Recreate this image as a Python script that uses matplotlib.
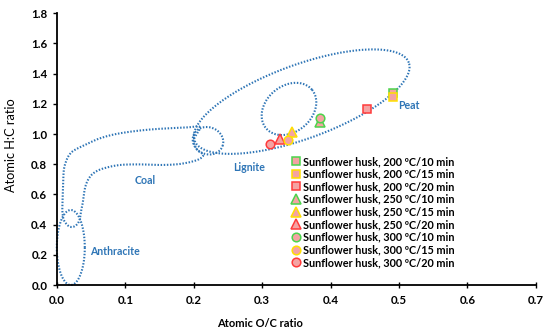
import numpy as np
import matplotlib
matplotlib.use("Agg")
import matplotlib.pyplot as plt
from matplotlib.lines import Line2D

plt.rcParams['font.family'] = ['Lato', 'DejaVu Sans']

# sunflower husk samples (O/C, H/C)
labels = [
    "Sunflower husk, 200 \u00baC/10 min",
    "Sunflower husk, 200 \u00baC/15 min",
    "Sunflower husk, 200 \u00baC/20 min",
    "Sunflower husk, 250 \u00baC/10 min",
    "Sunflower husk, 250 \u00baC/15 min",
    "Sunflower husk, 250 \u00baC/20 min",
    "Sunflower husk, 300 \u00baC/10 min",
    "Sunflower husk, 300 \u00baC/15 min",
    "Sunflower husk, 300 \u00baC/20 min",
]
oc = [0.492, 0.492, 0.453, 0.384, 0.343, 0.326, 0.384, 0.338, 0.311]
hc = [1.270, 1.248, 1.166, 1.078, 1.016, 0.968, 1.109, 0.961, 0.936]
markers = ['s', 's', 's', '^', '^', '^', 'o', 'o', 'o']
edges = ['#4CD44C', '#FFE000', '#FF3B3B'] * 3

# region outlines: ellipses (centre in data units, semi-axes in px, angle deg)
ell_centers = [(0.0202, 0.2485), (0.2208, 0.9556), (0.3392, 1.1663), (0.3578, 1.2147)]
ell_axes = [(14, 37.5), (15.5, 13.5), (30, 23), (114, 37)]
ell_angles = [0, -20, 40, 20]

# coal band outline (data units)
coal_x = [0.209, 0.190, 0.136, 0.092, 0.063, 0.041, 0.026, 0.019, 0.014, 0.010,
          0.009, 0.008, 0.008, 0.010, 0.016, 0.022, 0.0285, 0.033, 0.035, 0.0376,
          0.041, 0.047, 0.056, 0.070, 0.092, 0.121, 0.151, 0.180, 0.205, 0.214,
          0.205, 0.200]
coal_y = [1.045, 1.044, 1.030, 1.005, 0.972, 0.928, 0.895, 0.868, 0.828, 0.762,
          0.651, 0.541, 0.484, 0.431, 0.394, 0.384, 0.398, 0.431, 0.484, 0.541,
          0.643, 0.709, 0.749, 0.775, 0.795, 0.799, 0.795, 0.802, 0.828, 0.862,
          0.895, 0.961]

region_names = ['Anthracite', 'Coal', 'Lignite', 'Peat']
region_pos = [(0.049, 0.225), (0.114, 0.692), (0.258, 0.779), (0.499, 1.186)]

BLUE = '#2E75B6'
PINK = '#F4A3A3'

fig = plt.figure(figsize=(5.5, 3.34), dpi=100)
ax = fig.add_axes([0.1036, 0.1467, 0.8705, 0.8135])
ax.set_xlim(0, 0.7)
ax.set_ylim(0, 1.8)

pos = ax.get_position()
ppx = pos.width * 550 / 0.7
ppy = pos.height * 334 / 1.8


def ellipse(c, ab, ang):
    t = np.linspace(0, 2 * np.pi, 400)
    u, v = ab[0] * np.cos(t), ab[1] * np.sin(t)
    r = np.deg2rad(ang)
    du = u * np.cos(r) - v * np.sin(r)
    dv = u * np.sin(r) + v * np.cos(r)
    return c[0] + du / ppx, c[1] + dv / ppy


def smooth_closed(xs, ys, n=20):
    p = np.column_stack([np.array(xs) * ppx, np.array(ys) * ppy])
    out = []
    m = len(p)
    for i in range(m):
        p0, p1, p2, p3 = p[i - 1], p[i], p[(i + 1) % m], p[(i + 2) % m]
        for t in np.linspace(0, 1, n, endpoint=False):
            t2, t3 = t * t, t * t * t
            out.append(0.5 * (2 * p1 + (-p0 + p2) * t + (2 * p0 - 5 * p1 + 4 * p2 - p3) * t2
                              + (-p0 + 3 * p1 - 3 * p2 + p3) * t3))
    out.append(out[0])
    out = np.array(out)
    return out[:, 0] / ppx, out[:, 1] / ppy


line_kw = dict(color=BLUE, lw=1.5, linestyle=(0, (0.7, 0.8)), dash_capstyle='butt', zorder=1)
for c, ab, ang in zip(ell_centers, ell_axes, ell_angles):
    ex, ey = ellipse(c, ab, ang)
    ax.plot(ex, ey, clip_on=False, **line_kw)
cx, cy = smooth_closed(coal_x, coal_y)
ax.plot(cx, cy, **line_kw)

for name, (tx, ty) in zip(region_names, region_pos):
    ax.text(tx, ty, name, color=BLUE, fontsize=7.6, fontweight='bold', va='center', ha='left')

handles = []
for i in range(len(labels)):
    ms = 6.2 if markers[i] != '^' else 6.8
    ax.plot(oc[i], hc[i], linestyle='none', marker=markers[i], ms=ms,
            mfc=PINK, mec=edges[i], mew=1.1, zorder=3 + i)
    handles.append(Line2D([], [], linestyle='none', marker=markers[i],
                          ms=ms, mfc=PINK, mec=edges[i], mew=1.1))

ax.legend(handles, labels, loc='upper left', bbox_to_anchor=(0.491, 0.475), frameon=False,
          handlelength=0.8, handletextpad=0.22, labelspacing=0.15,
          borderpad=0, borderaxespad=0, prop={'weight': 'bold', 'size': 7.8})

ax.set_xticks(np.arange(0, 0.71, 0.1))
ax.set_yticks(np.arange(0, 1.81, 0.2))
ax.xaxis.set_major_formatter(matplotlib.ticker.FormatStrFormatter('%.1f'))
ax.yaxis.set_major_formatter(matplotlib.ticker.FormatStrFormatter('%.1f'))
ax.tick_params(axis='x', direction='inout', length=5, width=1, pad=5, labelsize=8.3)
ax.tick_params(axis='y', direction='out', length=3, width=1, pad=4, labelsize=8.3)
for lab in ax.get_xticklabels() + ax.get_yticklabels():
    lab.set_fontweight('bold')

for s in ['top', 'right']:
    ax.spines[s].set_visible(False)
for s in ['left', 'bottom']:
    ax.spines[s].set_linewidth(1.3)

ax.set_xlabel('Atomic O/C ratio', fontsize=8, fontweight='bold')
ax.xaxis.set_label_coords(0.423, -0.123)
ax.set_ylabel('Atomic H:C ratio', fontsize=9.2)
ax.yaxis.set_label_coords(-0.095, 0.515)
ax.yaxis.label.set_va('center')

fig.savefig('out.png', dpi=100)
